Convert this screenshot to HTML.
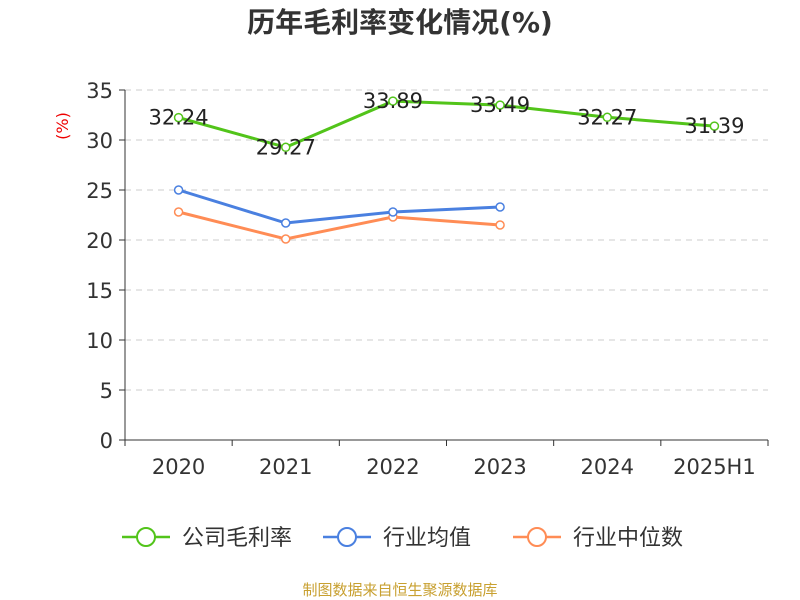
<!DOCTYPE html>
<html><head><meta charset="utf-8"><style>body{margin:0;background:#fff}svg{display:block}</style></head>
<body>
<svg id="c" width="800" height="600" xmlns="http://www.w3.org/2000/svg" font-family="'Liberation Sans','Noto Sans CJK SC',sans-serif">
<text x="400" y="32" text-anchor="middle" font-size="28" font-weight="bold" fill="#333" font-family="'DejaVu Sans','Noto Sans CJK SC',sans-serif">历年毛利率变化情况(%)</text>
<text transform="translate(68,126) rotate(-90)" text-anchor="middle" font-size="16" fill="#e00" font-family="'DejaVu Sans',sans-serif">(%)</text>
<g id="grid"></g><g id="axes"></g><g id="series"></g>
<g>
<g><line x1="122" y1="537" x2="170" y2="537" stroke="#52c41a" stroke-width="2.5"/><circle cx="146" cy="537" r="9" fill="#fff" stroke="#52c41a" stroke-width="2"/><text x="182" y="545" font-size="22" fill="#333">公司毛利率</text></g>
<g><line x1="323" y1="537" x2="371" y2="537" stroke="#4a80e0" stroke-width="2.5"/><circle cx="347" cy="537" r="9" fill="#fff" stroke="#4a80e0" stroke-width="2"/><text x="383" y="545" font-size="22" fill="#333">行业均值</text></g>
<g><line x1="513" y1="537" x2="561" y2="537" stroke="#ff8c55" stroke-width="2.5"/><circle cx="537" cy="537" r="9" fill="#fff" stroke="#ff8c55" stroke-width="2"/><text x="573" y="545" font-size="22" fill="#333">行业中位数</text></g>
</g>
<text x="400" y="595" text-anchor="middle" font-size="15" fill="#c8a030">制图数据来自恒生聚源数据库</text>
</svg>
<script>
const categories=["2020","2021","2022","2023","2024","2025H1"];
const grossMargin=[32.24,29.27,33.89,33.49,32.27,31.39];
const industryMean=[25.0,21.7,22.8,23.3];
const industryMedian=[22.8,20.1,22.3,21.5];
const yTicks=[0,5,10,15,20,25,30,35];
const NS="http://www.w3.org/2000/svg";
const NUMF="'DejaVu Sans',sans-serif";
const x0=125,x1=768,yb=440,yt=90,ymax=35;
const step=(x1-x0)/categories.length;
const xs=i=>x0+step*(i+0.5);
const ys=v=>yb-(v/ymax)*(yb-yt);
function mk(t,a,p){const e=document.createElementNS(NS,t);for(const k in a)e.setAttribute(k,a[k]);p.appendChild(e);return e;}
const grid=document.getElementById('grid'),axes=document.getElementById('axes'),ser=document.getElementById('series');
yTicks.forEach(v=>{
 if(v>0){const g=mk('line',{x1:x0,x2:x1,y1:ys(v),y2:ys(v),stroke:'#ccc','stroke-dasharray':'6,5'},grid);
 
 }
 const t=mk('line',{x1:x0-6,x2:x0,y1:ys(v),y2:ys(v),stroke:'#333'},axes);
 
 
 const l=mk('text',{x:x0-12,y:ys(v)+8,'text-anchor':'end','font-size':21,fill:'#333','font-family':NUMF},axes);l.textContent=v;
 
 
});
const ya=mk('line',{x1:x0,x2:x0,y1:yt,y2:yb,stroke:'#333'},axes);


const xa=mk('line',{x1:x0,x2:x1,y1:yb,y2:yb,stroke:'#333'},axes);


for(let i=0;i<=categories.length;i++){const t=mk('line',{x1:x0+step*i,x2:x0+step*i,y1:yb,y2:yb+6,stroke:'#333'},axes);
 
 }
categories.forEach((c,i)=>{const l=mk('text',{x:xs(i),y:474,'text-anchor':'middle','font-size':21,fill:'#333','font-family':NUMF},axes);l.textContent=c;
 
 });
function series(vals,color,name,labels){
 const g=mk('g',{},ser);
 
 
 const p=mk('polyline',{points:vals.map((v,i)=>xs(i)+','+ys(v)).join(' '),fill:'none',stroke:color,'stroke-width':3},g);
 
 
 vals.forEach((v,i)=>{const c=mk('circle',{cx:xs(i),cy:ys(v),r:4,fill:'#fff',stroke:color,'stroke-width':1.5},g);
  
  
  if(labels){const t=mk('text',{x:xs(i),y:ys(v)+7,'text-anchor':'middle','font-size':21,fill:'#222','font-family':NUMF},g);t.textContent=v.toFixed(2);
  
  }
 });
}
series(industryMedian,'#ff8c55','industry-median',false);
series(industryMean,'#4a80e0','industry-mean',false);
series(grossMargin,'#52c41a','gross-margin',true);
</script>
</body></html>
